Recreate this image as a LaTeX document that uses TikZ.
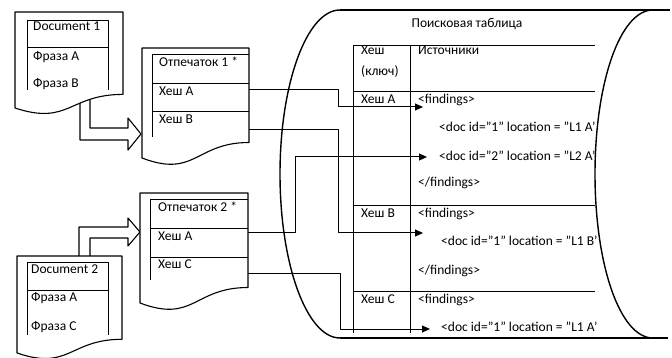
\documentclass[tikz,border=0pt]{standalone}
\usepackage{fontspec}
\setmainfont{Carlito}
\usetikzlibrary{arrows.meta}
\begin{document}
\begin{tikzpicture}[x=1pt,y=-1pt,line join=round,
  outl/.style={draw=black,line width=1.1pt,fill=white},
  thinl/.style={draw=black,line width=0.9pt},
  curvel/.style={draw=black,line width=1.4pt},
  txt/.style={anchor=west,inner sep=0pt,text height=8.5pt,text depth=2pt,font=\fontsize{13.5}{15}\selectfont},
  conn/.style={draw=black,line width=1pt,-{Triangle[length=8pt,width=7pt]}},
  hollow/.style={draw=black,line width=1.1pt,fill=white}]
\useasboundingbox (0,0) rectangle (672,358);

% ---- storage shape ----
\draw[curvel] (340,10) -- (670,10);
\draw[curvel] (340,338) -- (668,338);
\draw[curvel] (340,10) .. controls (306.9,10) and (280,83.4) .. (280,174) .. controls (280,264.6) and (306.9,338) .. (340,338);
\draw[curvel] (653,10) .. controls (619.9,10) and (595,83.4) .. (595,174) .. controls (595,264.6) and (619.9,338) .. (653,338);
\node[txt,anchor=center] (title) at (467,24) {Поисковая таблица};

% ---- table ----
\draw[thinl] (353,45) -- (353,333);
\draw[thinl] (410,45) -- (410,333);
\draw[thinl] (353,45) -- (595,45);
\draw[thinl] (353,91) -- (595,91);
\draw[thinl] (353,205) -- (595,205);
\draw[thinl] (353,291) -- (595,291);
\node[txt] (hk1) at (361,51) {Хеш};
\node[txt] (hk2) at (361,72) {(ключ)};
\node[txt] (src) at (418,51) {Источники};
\node[txt] (ta) at (361,100) {Хеш A};
\node[txt] (fa1) at (418,100) {<findings>};
\node[txt] (fa2) at (418,183) {</findings>};
\node[txt] (tb) at (361,214) {Хеш B};
\node[txt] (fb1) at (418,214) {<findings>};
\node[txt] (fb2) at (418,271) {</findings>};
\node[txt] (tc) at (361,300) {Хеш C};
\node[txt] (fc1) at (418,300) {<findings>};
\begin{scope}
\clip (330,0) -- (653,0) -- (653,10) .. controls (619.9,10) and (595,83.4) .. (595,174) .. controls (595,264.6) and (619.9,338) .. (653,338) -- (330,338) -- cycle;
\node[txt] (da1) at (439,128) {<doc id=”1” location = ”L1 A’};
\node[txt] (da2) at (439,157) {<doc id=”2” location = ”L2 A’};
\node[txt] (db1) at (441,242) {<doc id=”1” location = ”L1 B’};
\node[txt] (dc1) at (441,328) {<doc id=”1” location = ”L1 A’};
\end{scope}

% ---- hollow arrows (behind documents) ----
\draw[hollow] (80,95) -- (80,140) -- (128,140) -- (128,150) -- (141,134) -- (128,118) -- (128,128) -- (90,128) -- (90,95);
\draw[hollow] (79,265) -- (79,227) -- (128,227) -- (128,218) -- (140,232) -- (128,246) -- (128,238) -- (90,238) -- (90,265);

% ---- Document 1 ----
\draw[outl] (15,12) -- (123,12) -- (123,94.4) .. controls (69,94.4) and (69,125.8) .. (15,108) -- cycle;
\draw[thinl] (27,90) -- (27,20) -- (108,20) -- (108,90);
\draw[thinl] (27,47) -- (108,47);
\node[txt] (d1t) at (33,27) {Document 1};
\node[txt] (d1a) at (33,57) {Фраза A};
\node[txt] (d1b) at (33,84) {Фраза B};

% ---- Document 2 ----
\draw[outl] (17,256) -- (122,256) -- (122,339.3) .. controls (69.5,339.3) and (69.5,371) .. (17,353) -- cycle;
\draw[thinl] (27,335) -- (27,262) -- (108,262) -- (108,335);
\draw[thinl] (27,290) -- (108,290);
\node[txt] (d2t) at (31,270) {Document 2};
\node[txt] (d2a) at (31,298) {Фраза A};
\node[txt] (d2c) at (31,327) {Фраза C};

% ---- Fingerprint 1 ----
\draw[outl] (142,48) -- (249,48) -- (249,142.5) .. controls (195.5,142.5) and (195.5,178.4) .. (142,158) -- cycle;
\draw[thinl] (152,137) -- (152,54) -- (249,54);
\draw[thinl] (152,83) -- (249,83);
\draw[thinl] (152,111) -- (249,111);
\node[txt] (f1t) at (159,63) {Отпечаток 1 *};
\node[txt] (f1a) at (159,92) {Хеш A};
\node[txt] (f1b) at (159,120) {Хеш B};

% ---- Fingerprint 2 ----
\draw[outl] (140,193) -- (248,193) -- (248,287.5) .. controls (194,287.5) and (194,323.4) .. (140,303) -- cycle;
\draw[thinl] (150,280) -- (150,199) -- (248,199);
\draw[thinl] (150,228) -- (248,228);
\draw[thinl] (150,257) -- (248,257);
\node[txt] (f2t) at (158,208) {Отпечаток 2 *};
\node[txt] (f2a) at (158,237) {Хеш A};
\node[txt] (f2c) at (158,265) {Хеш C};

% ---- connectors ----
\coordinate (s1) at (249,90);
\coordinate (e1) at (423,107);
\coordinate (s2) at (249,130);
\coordinate (e2) at (423,233);
\coordinate (s3) at (248,233);
\coordinate (e3) at (427,157);
\coordinate (s4) at (248,273);
\coordinate (e4) at (430,329);
\draw[conn] (s1) -- (338,90) |- (e1);
\draw[conn] (s2) -- (338,130) |- (e2);
\draw[conn] (s3) -- (295,233) |- (e3);
\draw[conn] (s4) -- (340,273) |- (e4);
\end{tikzpicture}
\end{document}
